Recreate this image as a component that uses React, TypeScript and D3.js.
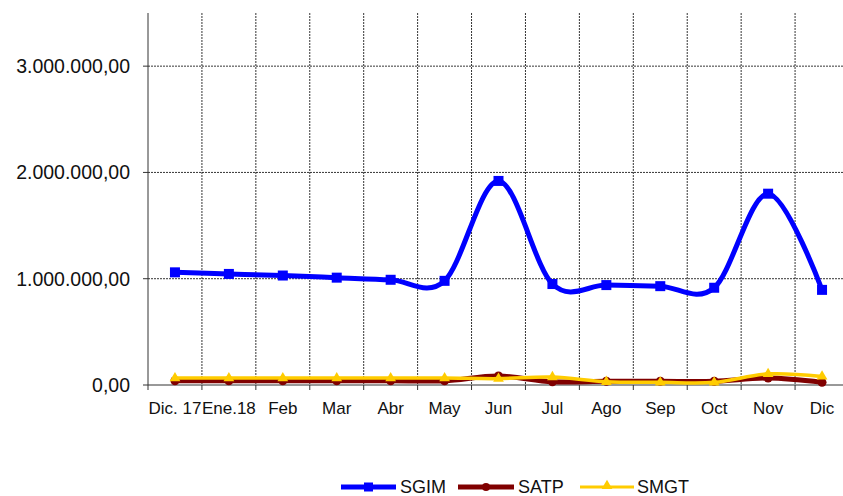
import React from 'react'
import * as d3 from 'd3'

const months = ['Dic. 17', 'Ene.18', 'Feb', 'Mar', 'Abr', 'May', 'Jun', 'Jul', 'Ago', 'Sep', 'Oct', 'Nov', 'Dic']
const sgim = [1060000, 1045000, 1030000, 1010000, 990000, 980000, 1920000, 950000, 940000, 930000, 915000, 1800000, 895000]
const satp = [40000, 40000, 40000, 40000, 40000, 40000, 85000, 30000, 35000, 35000, 35000, 65000, 25000]
const smgt = [65000, 65000, 65000, 65000, 65000, 65000, 60000, 75000, 30000, 25000, 25000, 105000, 80000]
const yTicks = [0, 1000000, 2000000, 3000000]

const W = 843
const H = 496
const left = 148
const right = 849
const top = 13
const bottom = 385

const fmt = (v: number) =>
  d3.format(',.2f')(v).replace(/,/g, '#').replace('.', ',').replace(/#/g, '.')

export default function App() {
  const x = d3.scaleBand<string>().domain(months).range([left, right])
  const y = d3.scaleLinear().domain([0, 3500000]).range([bottom, top])
  const cx = (i: number) => (x(months[i]) as number) + x.bandwidth() / 2
  const line = d3
    .line<number>()
    .x((_, i) => cx(i))
    .y((d) => y(d))
    .curve(d3.curveCardinal.tension(0))

  const bounds = months.map((m) => x(m) as number).concat([right])
  const font = 'Liberation Sans, Arial, sans-serif'
  const tri = d3.symbol(d3.symbolTriangle, 50)() || ''

  return (
    <svg width={W} height={H} style={{ position: 'absolute', left: 0, top: 0, background: '#fff' }}>
      {/* grid */}
      {yTicks.slice(1).map((t) => (
        <line key={t} x1={left} x2={right} y1={y(t)} y2={y(t)} stroke="#000" strokeWidth={0.8} strokeDasharray="2,1" />
      ))}
      {bounds.slice(1).map((b, i) => (
        <line key={i} x1={b} x2={b} y1={top} y2={bottom} stroke="#000" strokeWidth={0.8} strokeDasharray="2,1" />
      ))}
      {/* axes */}
      <line x1={left} x2={left} y1={top} y2={bottom} stroke="#333" strokeWidth={1} />
      <line x1={left} x2={right} y1={bottom} y2={bottom} stroke="#333" strokeWidth={1} />
      {yTicks.map((t) => (
        <g key={t}>
          <line x1={left - 5} x2={left} y1={y(t)} y2={y(t)} stroke="#333" />
          <text x={130} y={y(t)} dy="0.36em" textAnchor="end" fontFamily={font} fontSize={19.5} fill="#111">
            {fmt(t)}
          </text>
        </g>
      ))}
      {bounds.map((b, i) => (
        <line key={i} x1={b} x2={b} y1={bottom} y2={bottom + 5} stroke="#333" />
      ))}
      {months.map((m, i) => (
        <text key={m} x={cx(i)} y={414} textAnchor="middle" fontFamily={font} fontSize={17} fill="#111">
          {m}
        </text>
      ))}
      {/* series */}
      <path d={line(satp) || ''} fill="none" stroke="#800000" strokeWidth={5} />
      {satp.map((v, i) => (
        <circle key={i} cx={cx(i)} cy={y(v)} r={4.5} fill="#800000" />
      ))}
      <path d={line(smgt) || ''} fill="none" stroke="#FFCC00" strokeWidth={3.5} />
      {smgt.map((v, i) => (
        <path key={i} transform={`translate(${cx(i)},${y(v)})`} d={tri} fill="#FFCC00" />
      ))}
      <path d={line(sgim) || ''} fill="none" stroke="#0000FF" strokeWidth={5} />
      {sgim.map((v, i) => (
        <rect key={i} x={cx(i) - 5} y={y(v) - 5} width={10} height={10} fill="#0000FF" />
      ))}
      {/* legend */}
      <g fontFamily={font} fontSize={18} fill="#111">
        <line x1={341} x2={396} y1={487} y2={487} stroke="#0000FF" strokeWidth={5} />
        <rect x={364} y={482.5} width={9} height={9} fill="#0000FF" />
        <text x={400} y={492.5}>SGIM</text>
        <line x1={458} x2={514} y1={487} y2={487} stroke="#800000" strokeWidth={5} />
        <circle cx={486} cy={487} r={4} fill="#800000" />
        <text x={518} y={492.5}>SATP</text>
        <line x1={580} x2={634} y1={487} y2={487} stroke="#FFCC00" strokeWidth={3} />
        <path transform="translate(607,486)" d={tri} fill="#FFCC00" />
        <text x={637} y={492.5}>SMGT</text>
      </g>
    </svg>
  )
}
